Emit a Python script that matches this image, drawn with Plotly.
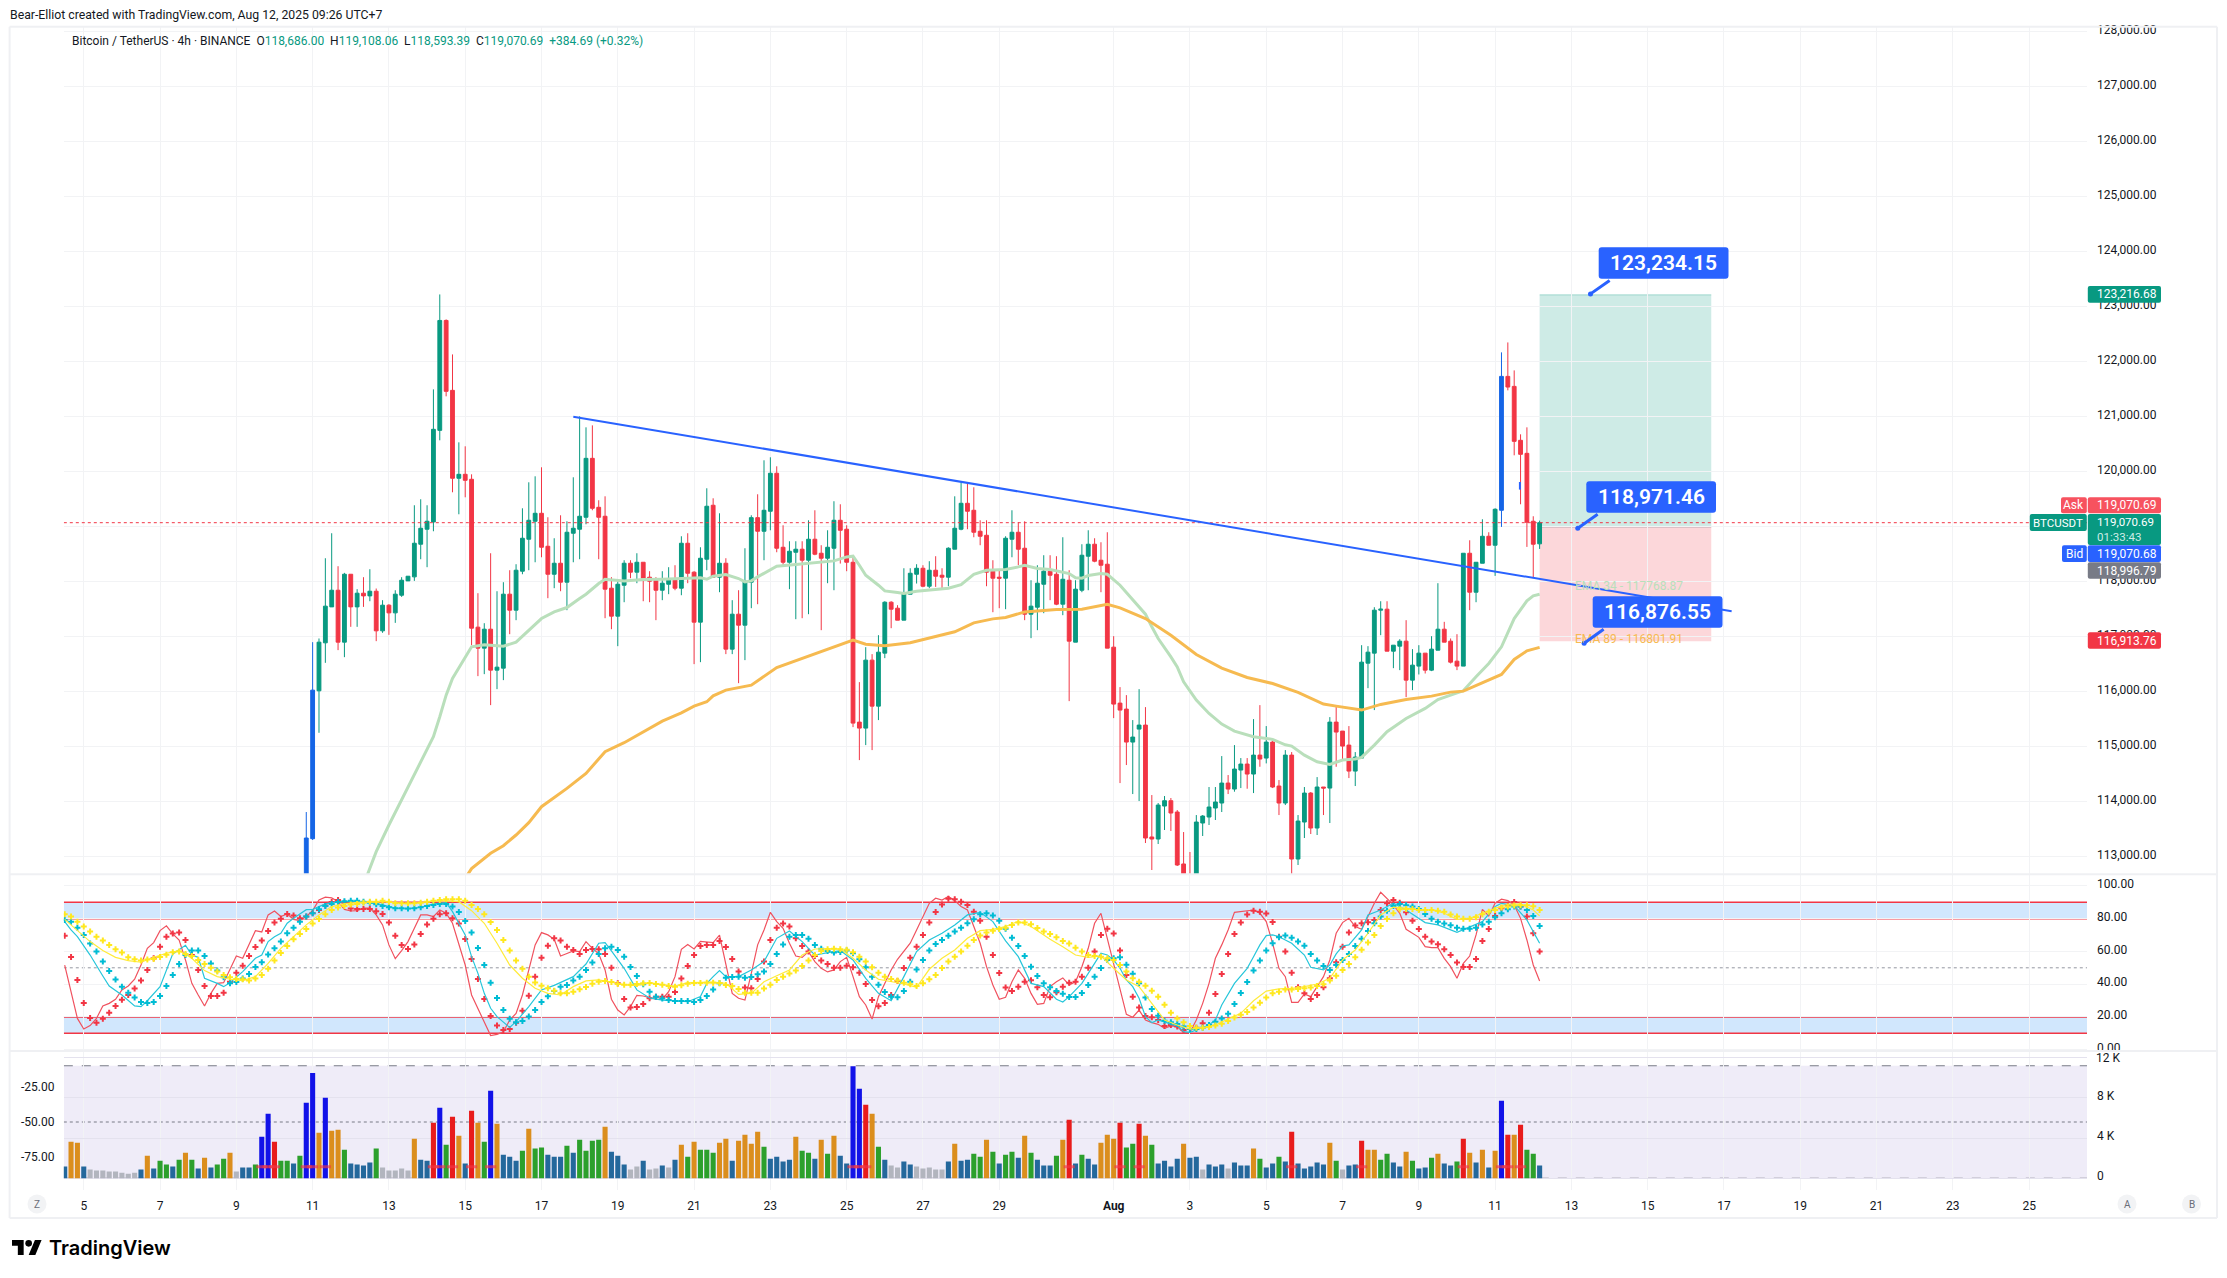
import pandas as pd
import plotly.graph_objects as go
from plotly.subplots import make_subplots

W, H = 2227, 1278

# bar 0 is the 4h candle of Jul 10 23:00 (UTC+7)
first_bar = pd.Timestamp("2025-07-10 23:00")

# Price pane, bars 0..194 (earlier bars are under the pane bottom)
opens = [112350,113321,116012,116885,117539,117842,116897,118133,117539,117788,117739,117824,117103,117570,117430,117751,118012,118085,118679,118952,
119085,120751,122751,121479,119879,119951,119861,117170,116788,117133,116388,116424,117770,117479,118188,118770,119097,119242,118642,118133,
118333,117988,118879,118952,119170,120242,119351,119188,117879,117370,117933,118333,118170,118351,118079,118024,117842,117951,118042,117879,
118697,118170,117261,118406,119388,118079,118333,116770,117406,117206,117988,119163,118915,119279,119970,118624,118351,118533,118588,118388,
118770,118515,118424,118606,119115,118952,118351,115442,115333,116570,115733,116697,117624,117515,117297,117770,118133,118242,117915,118206,
118115,118079,118588,118952,119424,119297,118915,118842,118188,118079,118061,118770,118897,118606,117406,117533,117951,118188,118133,117588,
118024,116897,117842,118461,118679,118388,118315,116806,115788,115679,115079,115315,115388,113352,113315,113915,114012,113806,112861,112570,
112418,113606,113715,113879,113970,114333,114224,114570,114679,114497,114842,114788,115079,114279,113970,114842,112951,113624,114151,113515,
114261,114242,115442,115279,115024,114551,114788,116515,116697,117479,117497,116733,116824,116915,116206,116461,116697,116388,116751,117133,
116915,116551,116461,118515,117806,118333,118824,118661,119297,121733,121551,120570,120333,119097,118686.00]
highs = [113806,116897,116964,118424,118879,118279,118158,118133,117861,118079,118224,117873,117661,117588,117842,118079,118097,119388,119497,119388,
121497,123224,122770,122133,120533,120461,119951,117788,117242,118515,117824,117988,118206,118315,119333,119806,119915,120079,119170,118788,
119206,119097,119897,121006,120806,120842,119479,119551,118079,118042,118388,118388,118515,118351,118188,118079,118188,118261,118297,118824,
118879,118188,118624,119697,119515,119242,118424,117661,117842,118606,119206,119588,120206,120261,120097,119024,118733,118733,118733,119115,
119297,118661,118933,119461,119406,119024,118461,116170,116806,116679,117024,117642,117642,117570,118242,118242,118315,118297,118370,118461,
118242,118624,119551,119806,119806,119715,119115,119115,118388,118224,118824,119297,119079,119097,118024,118297,118479,118479,118461,118806,
118206,118024,118679,118933,118788,118715,118897,117006,116079,115933,115479,116042,115715,114115,113970,114097,114061,113842,113442,113079,
113751,113751,114261,114261,114824,114479,115024,114788,114788,115497,115751,115370,115133,114388,114933,114897,113751,114261,114170,114442,
114261,115533,115733,115279,115370,114897,116842,116824,117533,117642,117642,116842,116951,117297,116770,116842,116697,117006,117970,117267,
116964,117042,118515,118751,118351,119133,118897,119333,122170,122351,121842,120679,120806,119188,119108.06]
lows = [112200,113297,115248,116521,117539,116752,116624,117176,117176,117539,117642,116915,117067,117030,117248,117721,118012,118012,118406,118261,
118915,120570,121370,119624,119224,119533,116842,116279,116315,115751,116042,116206,117042,117297,118133,118206,118351,118442,117697,117879,
117824,117479,118351,118406,119042,119297,118406,117333,117133,116824,117624,118061,117970,117642,117624,117297,117661,117770,117842,117751,
117970,116497,116533,118206,118079,117806,116679,116679,116151,116570,117515,117588,118388,118933,118533,118297,117861,117315,117333,117406,
118479,117115,117970,117842,118327,118188,115351,114751,115024,114933,115479,116606,117151,117297,117297,117770,117964,117897,117879,117903,
117879,117915,118588,118933,118952,118806,118661,117915,117442,117515,117497,118442,118297,117297,116970,117115,117424,117661,117570,117388,
115824,116897,117806,117842,118351,117806,116788,115515,114333,114661,114133,114006,113242,112751,113224,113479,113461,112824,112388,112267,
112267,113370,113570,113661,113806,114133,114176,114242,114230,114151,114630,114691,114242,113751,113933,112679,112842,113333,113406,113388,
113751,113606,114630,114751,114424,114279,114788,116060,115661,117024,116733,116424,116388,115897,116024,116309,116327,116370,116751,116897,
116509,116388,116461,117479,117624,118333,118661,118103,118994,121479,120297,119406,118630,118079,118593.39]
closes = [113333,116024,116897,117552,117842,116897,118133,117539,117788,117739,117824,117103,117570,117430,117770,118024,118097,118697,118970,119097,
120770,122751,121461,119879,119951,119842,117151,116788,117133,116388,116442,117770,117479,118206,118788,119115,119242,118624,118133,118333,
117988,118897,118970,119188,120242,119333,119170,117861,117370,117951,118333,118170,118351,118061,118006,117842,117970,118042,117879,118697,
118151,117261,118424,119370,118079,118333,116770,117406,117206,118006,119163,118915,119297,119970,118606,118351,118551,118588,118388,118770,
118497,118424,118624,119115,118933,118351,115424,115333,116570,115733,116715,117624,117497,117297,117788,118151,118242,117915,118206,118097,
118079,118606,118970,119424,119279,118897,118824,118170,118061,118061,118788,118897,118588,117406,117552,117970,118188,118115,117588,118042,
116915,117861,118479,118679,118370,118297,116788,115770,115661,115079,115170,115388,113333,113315,113933,114012,113788,112842,112570,112418,
113624,113733,113897,113988,114333,114224,114588,114679,114497,114842,114770,115079,114261,113970,114842,112951,113642,114151,113515,114261,
114242,115442,115261,115006,114551,114806,116533,116715,117479,117497,116733,116842,116915,116206,116479,116697,116388,116770,117133,116897,
116533,116461,118515,117806,118351,118824,118661,119315,121733,121539,120551,120315,119079,118679,119070.69]
blue_bars = [0, 1, 188]

ema34_bars = [9,11,13,15,17,20,21,22,23,25,26,28,31,33,34,36,37,39,41,43,44,46,47,50,53,56,60,62,63,64,66,68,69,70,71,72,73,74,77,80,83,85,86,87,88,90,91,93,94,96,99,101,103,105,107,110,112,113,115,117,120,121,122,123,125,126,128,130,132,133,134,136,137,138,140,142,144,146,149,152,154,155,157,159,161,163,165,166,168,170,173,176,178,180,182,184,186,188,189,190,192,193,194]
ema34_vals = [112479,113085,113570,114024,114479,115176,115539,115933,116236,116630,116812,116848,116824,116897,117006,117206,117327,117448,117527,117691,117770,117964,118042,118012,118036,118042,118061,118067,118042,118097,118127,118055,117994,118012,118085,118145,118206,118279,118309,118339,118376,118448,118461,118297,118115,117933,117830,117800,117782,117824,117855,117879,117945,118133,118206,118218,118267,118297,118236,118218,118145,118067,118061,118109,118145,118133,117933,117661,117406,117176,116964,116630,116448,116176,115842,115600,115406,115279,115176,115127,115030,115006,114842,114721,114672,114751,114770,114800,115024,115267,115509,115691,115854,115933,116012,116267,116509,116812,117055,117327,117648,117739,117768.87]
ema89_bars = [25,26,29,31,33,35,37,41,44,46,47,50,53,56,59,61,63,64,66,69,70,74,78,81,83,86,88,91,95,98,102,105,108,110,113,118,122,126,128,132,136,140,144,148,152,156,160,162,166,169,173,177,180,182,185,188,190,192,194]
ema89_vals = [112600,112776,113055,113194,113388,113612,113903,114236,114509,114782,114903,115067,115267,115461,115612,115733,115812,115921,116024,116085,116115,116436,116600,116715,116800,116933,116860,116830,116885,116970,117085,117248,117321,117345,117448,117491,117497,117588,117521,117327,117024,116673,116424,116254,116145,115982,115770,115733,115661,115764,115854,115915,115988,116006,116157,116309,116582,116739,116801.91]

trend_bars = [42, 224.2]
trend_vals = [121000, 117460]

last_price = 119070.69
target_price = 123216.68
entry_price = 118996.79
stop_price = 116913.76
position_bars = [194, 221]
callout_bars = [202, 200, 201]
callout_vals = [123234.15, 118971.46, 116876.55]

# RSI pane, bars -38..194
rsi_first_bar = -38
rsi_red_line = [51.7,34.4,19.1,12.6,14.7,19.1,26.7,28.3,30.8,36.5,38.9,43.0,51.7,61.9,65.4,72.7,75.6,70.7,67.0,54.8,40.5,33.4,26.7,34.4,40.5,40.9,48.7,57.2,55.8,64.0,72.7,71.9,82.3,84.7,81.3,82.9,79.6,78.8,81.3,84.9,91.4,93.1,92.7,90.4,85.7,84.7,84.9,86.4,86.4,82.3,76.2,64.0,55.6,60.5,66.0,74.1,82.3,82.3,81.3,85.3,83.3,77.2,65.0,51.7,33.4,25.3,17.1,8.6,9.4,11.0,18.1,22.2,33.4,48.7,64.0,71.5,70.1,67.4,57.2,
58.7,60.3,59.9,66.0,61.9,58.5,48.7,30.8,24.2,21.2,26.3,33.2,32.8,31.8,30.8,30.8,35.4,44.6,61.3,64.2,61.5,66.2,65.6,65.4,69.9,51.7,34.4,31.4,30.3,46.6,64.0,73.1,83.9,78.2,74.1,65.0,57.2,56.4,59.9,53.8,49.7,47.5,48.7,53.8,56.4,44.6,32.4,27.3,18.7,32.4,40.5,48.7,55.2,59.9,65.0,73.1,81.3,89.4,92.5,91.4,93.5,91.0,87.4,85.3,75.2,65.0,50.7,39.5,30.8,32.0,41.5,48.7,43.6,34.4,27.7,28.3,38.5,
41.5,43.8,39.5,41.5,50.7,61.9,77.2,83.3,68.0,51.7,36.5,21.6,19.8,24.2,18.1,16.5,15.5,13.0,14.5,14.1,10.4,10.6,18.1,28.3,40.5,55.8,64.0,73.1,83.9,84.3,84.7,85.3,83.3,78.2,65.0,49.7,44.6,28.9,28.9,34.0,32.4,38.5,44.6,54.8,71.1,77.6,80.2,75.2,73.5,81.3,89.4,96.1,92.5,88.4,83.3,73.5,71.1,68.6,62.9,62.3,62.3,55.8,50.7,43.6,52.7,57.2,70.1,85.7,81.7,89.4,91.9,91.0,88.4,80.2,67.0,51.7,42.0]
rsi_red_marks = [69.5,56.6,42.6,28.5,19.3,16.5,18.9,22.6,26.7,30.5,33.4,37.3,42.2,48.7,55.8,62.9,69.0,70.9,71.5,67.0,57.8,48.7,38.9,32.8,32.8,34.8,41.5,47.0,51.3,57.2,62.7,66.6,72.5,77.6,80.0,82.9,81.9,80.2,81.3,83.3,85.3,88.0,90.2,91.4,89.8,86.2,85.9,85.9,85.9,84.5,82.9,77.6,69.5,64.0,61.5,64.2,70.7,76.4,80.0,82.7,83.3,80.2,77.0,67.6,55.4,43.2,31.0,20.6,14.7,12.0,12.6,16.5,23.8,33.0,44.6,56.2,63.5,68.0,66.6,
62.9,60.9,58.5,60.9,61.5,61.3,58.5,50.1,40.5,31.0,25.7,26.1,27.9,31.4,32.4,32.4,32.4,35.2,43.4,51.1,57.8,63.3,64.0,64.0,66.4,62.7,55.4,47.7,37.9,37.5,43.2,53.8,67.0,74.5,77.0,75.2,68.0,63.3,59.9,57.2,54.4,52.3,50.1,50.1,51.3,50.3,47.0,40.1,30.3,26.5,28.5,33.4,42.0,49.9,56.2,62.9,70.1,77.6,84.1,88.6,92.1,91.9,90.4,88.4,84.3,78.8,69.0,57.8,46.8,37.9,35.8,38.5,41.5,42.4,38.1,33.4,32.0,
35.0,38.5,40.9,41.5,44.6,50.1,59.9,70.1,73.9,70.9,60.5,45.6,32.4,25.7,20.6,19.8,18.1,14.5,15.1,14.1,12.0,12.6,13.4,16.1,22.6,34.0,46.2,58.5,70.7,77.6,82.5,84.9,84.3,83.1,78.0,69.0,59.9,47.0,38.1,34.4,31.0,33.4,38.1,43.6,53.4,62.9,71.5,75.8,77.2,77.8,79.2,85.3,89.4,91.4,89.8,83.9,78.8,73.7,69.0,66.0,64.4,61.3,57.8,53.2,50.5,50.5,55.4,66.4,73.7,81.7,86.4,88.4,90.2,87.4,81.3,71.1,59.9]
rsi_cyan_marks = [79.2,78.2,74.5,70.1,64.8,59.9,53.8,48.1,42.8,38.5,34.8,31.8,29.1,28.5,29.1,32.8,38.9,45.6,52.3,57.8,60.5,60.5,57.2,52.7,48.3,44.2,40.5,41.3,43.4,46.2,50.5,53.4,58.2,61.9,66.0,71.1,74.5,78.2,81.3,83.3,85.7,87.8,89.0,90.2,90.6,91.0,91.0,90.4,89.8,88.8,87.8,87.0,86.4,86.4,86.2,86.4,87.0,87.8,88.4,89.0,89.0,87.4,84.1,78.6,71.5,62.1,51.7,40.9,31.6,24.2,18.9,16.7,17.5,20.2,24.2,29.1,32.6,35.8,38.5,
39.5,42.2,44.6,48.7,53.2,58.5,61.9,62.9,60.9,56.8,50.5,45.0,39.9,35.4,32.4,31.2,30.3,29.7,29.7,29.7,29.1,30.3,32.8,36.7,40.5,44.0,44.4,44.6,44.0,44.4,46.0,47.7,52.3,58.5,64.2,69.0,70.1,70.1,67.8,64.0,61.7,60.3,59.3,59.7,60.5,58.9,55.2,50.3,44.6,39.7,35.2,32.4,32.0,35.8,41.5,48.9,54.8,60.5,64.6,67.0,69.5,72.1,74.5,77.2,79.6,82.7,83.3,81.9,78.8,73.9,68.4,63.3,57.2,50.7,45.0,40.5,38.1,
35.8,34.2,32.2,32.2,34.6,39.5,44.6,49.9,54.8,55.8,56.4,51.9,46.4,40.5,31.8,24.8,20.8,17.7,16.7,15.7,14.1,12.6,12.6,13.4,15.1,17.1,19.1,22.0,27.9,34.6,41.3,48.3,54.4,60.5,65.0,68.6,69.7,68.4,66.0,63.5,58.5,54.4,51.1,48.7,51.7,54.8,58.5,63.3,67.8,72.5,77.2,81.3,84.9,87.8,89.0,88.2,87.4,85.9,82.9,80.0,78.2,77.0,76.0,74.5,73.9,73.9,74.5,76.4,78.2,80.9,83.3,85.7,87.4,87.4,85.3,81.7,75.6]
rsi_yellow_marks = [82.7,81.3,78.2,75.2,72.1,69.0,66.6,64.0,61.3,59.3,56.4,55.2,54.4,55.0,55.4,56.6,58.0,59.5,59.9,58.5,57.2,54.8,52.3,50.1,47.7,45.6,44.2,43.2,43.0,42.2,43.4,45.6,49.5,54.4,59.1,63.3,67.4,70.7,73.7,77.0,79.8,82.7,85.3,86.8,87.8,88.6,89.0,89.8,90.4,90.4,91.0,90.4,89.4,89.4,89.4,89.4,89.8,90.4,91.0,91.4,91.9,91.9,91.9,91.0,88.4,85.9,82.7,78.0,73.1,67.0,60.5,54.4,49.5,44.6,41.1,39.1,37.5,36.0,34.4,
34.4,35.4,36.9,38.3,40.3,41.5,42.0,41.3,40.1,39.7,39.7,40.1,40.5,40.7,40.1,39.7,38.9,38.5,39.3,40.3,40.7,40.7,40.9,40.9,40.7,39.5,38.9,37.1,34.8,34.8,34.8,37.3,39.7,42.6,44.6,46.6,48.3,51.1,54.4,57.8,60.3,61.3,61.7,61.3,61.1,59.5,56.8,53.8,50.3,47.0,44.6,43.2,42.2,40.9,39.9,38.9,40.5,43.0,45.6,49.9,53.8,56.8,59.9,63.5,67.0,69.7,71.5,72.7,73.7,74.5,76.2,77.6,77.6,76.6,74.3,72.1,70.7,
68.6,66.4,64.8,62.3,59.9,57.8,57.2,56.8,55.8,54.8,51.7,47.7,43.6,41.5,39.1,36.0,32.4,27.5,22.6,19.1,16.7,14.5,13.4,13.4,13.8,14.7,15.9,17.5,19.6,21.4,23.0,25.7,28.7,31.8,34.4,35.4,36.7,36.7,37.1,37.5,37.9,38.9,39.9,42.2,45.2,48.7,52.3,56.4,61.1,65.4,70.1,75.6,79.8,83.3,85.7,85.9,85.9,85.3,85.3,85.3,84.9,84.3,82.5,81.3,80.0,80.0,80.9,82.7,84.3,85.3,86.8,87.4,88.0,88.2,88.2,87.6,85.3]
rsi_cyan_bars = [-38,-37,-36,-35,-34,-32,-31,-29,-27,-26,-25,-23,-22,-21,-19,-18,-17,-16,-14,-13,-12,-10,-8,-7,-6,-5,-4,-3,-2,0,1,2,3,4,6,8,10,12,14,16,18,20,22,23,24,25,26,27,28,29,30,32,33,35,37,39,
42,44,46,47,48,50,52,54,56,58,60,62,63,64,65,66,68,70,72,74,76,78,80,82,84,86,88,90,92,94,96,98,100,102,104,106,108,110,112,114,116,
118,119,120,122,124,125,126,127,128,129,130,131,132,133,134,135,136,137,138,139,140,142,143,144,146,148,149,150,151,152,153,155,157,158,160,161,162,163,164,166,167,169,171,173,176,178,181,183,185,187,188,190,192,193,194]
rsi_cyan_line = [78.2,73.1,69.0,63.3,57.8,45.0,38.9,33.4,26.7,26.3,29.9,38.5,48.7,58.5,63.7,57.8,56.4,43.6,40.5,38.5,40.9,47.7,55.8,57.8,66.0,69.0,71.1,77.2,80.2,85.5,85.7,87.4,89.0,89.8,90.4,90.4,89.8,88.4,86.4,85.9,87.0,89.0,89.8,84.3,77.2,70.1,56.8,46.6,34.4,25.3,20.2,13.6,17.1,26.3,36.5,39.3,
44.6,52.3,65.0,65.4,60.3,49.7,36.5,31.6,30.3,29.7,29.3,32.4,40.5,44.6,48.3,44.6,44.6,48.7,53.8,68.0,72.5,66.0,57.8,59.3,60.5,54.8,43.6,34.4,29.9,44.6,59.9,67.0,71.1,76.2,82.3,83.9,78.2,66.4,56.8,40.5,38.5,
30.8,29.1,32.4,40.5,52.7,58.9,57.8,54.8,49.7,42.6,38.5,31.4,20.2,16.5,18.1,17.1,15.5,14.7,11.0,10.6,12.0,15.1,18.1,27.3,40.5,49.7,56.8,64.0,69.7,70.1,69.0,65.0,57.8,50.3,48.7,51.7,58.5,63.3,64.0,73.1,82.3,85.3,89.4,85.3,77.6,76.2,71.7,75.2,78.2,87.4,89.4,88.0,79.2,72.1,65.0]
rsi_yellow_bars = list(range(-38, 117, 2)) + list(range(117, 194, 2)) + [194]
rsi_yellow_line = [79.6,73.1,66.0,60.5,56.4,54.4,53.4,56.4,58.9,60.5,55.8,48.3,44.6,43.0,42.2,44.6,52.7,61.9,69.0,76.2,82.3,87.4,89.0,90.0,90.2,90.4,89.8,89.0,89.8,90.8,91.0,90.4,84.9,77.2,65.0,51.7,43.6,37.5,34.4,33.4,
38.5,42.0,42.6,41.1,39.7,39.1,40.9,39.7,38.9,40.9,40.9,41.3,40.5,33.8,34.4,41.5,45.2,48.7,57.8,61.5,61.7,61.5,55.8,48.7,43.0,41.5,40.1,38.1,49.1,55.8,60.9,68.0,72.7,73.5,75.2,78.4,75.2,70.1,
67.4,62.9,57.8,56.4,57.2,49.7,42.6,38.5,28.3,18.1,15.1,12.6,13.4,15.1,18.7,22.2,29.9,35.8,37.1,37.5,38.5,40.1,43.6,54.8,60.9,71.1,82.3,87.0,86.4,85.3,85.3,83.3,79.6,80.2,83.3,86.4,88.8,89.0,85.3,81.7]
rsi_levels = [90, 80, 20, 10]
rsi_ticks = [0, 20, 40, 60, 80, 100]

# Volume pane, bars -38..194; kinds: b steel, g green, o orange, G grey, B blue, r red
volumes = [1160,3640,3540,1160,860,760,760,660,660,560,460,560,860,2250,960,1750,1360,1160,1850,2550,1850,960,2050,1060,1360,1950,2550,660,1060,1060,1360,4140,6420,3640,1750,1750,1460,2250,
7510,10490,4530,8010,4730,4830,2850,1460,1360,1260,1560,2950,1060,760,760,960,760,3940,1850,1750,5530,7020,3340,6120,4240,1460,6720,5530,3640,8710,5430,2350,2150,1750,2750,4930,2950,3050,2350,2150,2150,3240,2550,3840,2750,3740,3840,5130,2650,2250,1360,860,1160,1750,860,960,1260,1060,1850,3340,2150,3640,2850,2850,2550,3540,3940,1750,3740,4340,3440,4630,3140,1950,2150,1660,1850,4140,
2750,2550,1950,3840,2450,4240,2250,1460,11150,8900,7320,6420,3140,1850,1260,1060,1660,1360,1160,960,1060,860,860,1660,3440,1750,1850,2450,2150,3840,2650,1460,2350,2650,2050,4240,2550,1850,1260,1260,2250,3840,5830,1460,2350,1950,1360,3540,4340,3940,5530,3050,3440,5430,4240,3340,1460,1750,1160,1950,3440,2050,2150,860,1360,1160,1360,960,1560,1260,1260,2950,1950,1060,1460,2150,1660,4630,1460,960,1160,1560,1360,3540,1750,860,1260,1360,3740,2850,2850,1850,2450,1560,1160,2650,1750,960,1060,2050,2450,1460,1260,1660,3940,2550,1560,2850,1060,2750,7710,4340,4340,5330,2850,2450,1260]
vol_kinds = "".join(["boobGGGGGG","GGbobggbgo","gbobggoGbb","gBBrggbgBB","oBoogbbbbg","GGGGGobbrB","grobrogBob","bbgoggbbbg","bggggobbbG",
                     "GbGGbGbogo","gggooboooo","gbbbboggbo","gobbBBrogb","GGbbGGGGGb","obbggogbgg","bogbbbgorb","gbbooorggr",
                     "ogbbbbobbG","bbbGbbbogb","bgbrbbbbbo","gGbbrooggb","bogbbgobbg","roboboBror","ggb"])
vol_ticks = [0, 4000, 8000]
vol_tick_labels = ["0", "4 K", "8 K"]
vol_grid_extra = 12000
vol_band_top = 11200
vol_mid = 5600
vol_left_labels = ["-25.00", "-50.00", "-75.00"]

tick_days = ["07-05","07-07","07-09","07-11","07-13","07-15","07-17","07-19","07-21","07-23","07-25","07-27","07-29",
             "08-01","08-03","08-05","08-07","08-09","08-11","08-13","08-15","08-17","08-19","08-21","08-23","08-25"]
tick_labels = ["5","7","9","11","13","15","17","19","21","23","25","27","29","<b>Aug</b>","3","5","7","9","11","13","15","17","19","21","23","25"]

RED = "#F23645"
GREEN = "#089981"
BLUE = "#2962FF"
INK = "#131722"
GRID = "#F2F3F5"
FONT = "Roboto"
KIND_COLORS = {"b": "#24689C", "g": "#2CA02C", "o": "#DB8E1D", "G": "#B2B5BE", "B": "#1212E8", "r": "#E81C1C"}


def bar_time(k):
    return first_bar + pd.Timedelta(hours=4 * k)


def fx(px):
    return px / W


def fy(py):
    return 1 - py / H


rsi_bars = list(range(rsi_first_bar, rsi_first_bar + 233))
rsi_times = [bar_time(k) for k in rsi_bars]
candle_times = [bar_time(k) for k in range(195)]
x_range = [bar_time(-38.14), bar_time(280.1)]

fig = make_subplots(rows=3, cols=1, shared_xaxes=True, vertical_spacing=0)

# long position box
fig.add_shape(type="rect", x0=bar_time(position_bars[0]), x1=bar_time(position_bars[1]), y0=entry_price, y1=target_price,
              fillcolor="rgba(8,153,129,0.2)", line_width=0, layer="below", row=1, col=1)
fig.add_shape(type="rect", x0=bar_time(position_bars[0]), x1=bar_time(position_bars[1]), y0=stop_price, y1=entry_price,
              fillcolor="rgba(242,54,69,0.2)", line_width=0, layer="below", row=1, col=1)
for price, color in [(target_price, "rgba(8,153,129,0.3)"), (entry_price, "#787B86")]:
    fig.add_shape(type="line", x0=bar_time(position_bars[0]), x1=bar_time(position_bars[1]), y0=price, y1=price,
                  line=dict(color=color, width=1), layer="below", row=1, col=1)

fig.add_trace(go.Scatter(x=x_range, y=[last_price, last_price], mode="lines",
                         line=dict(color=RED, width=1, dash="dot")), row=1, col=1)
fig.add_trace(go.Scatter(x=[bar_time(k) for k in ema34_bars], y=ema34_vals, mode="lines",
                         line=dict(color="#B9DFBB", width=3)), row=1, col=1)
fig.add_trace(go.Scatter(x=[bar_time(k) for k in ema89_bars], y=ema89_vals, mode="lines",
                         line=dict(color="#F6BA50", width=3)), row=1, col=1)

# Candles
plain = [k for k in range(195) if k not in blue_bars]
fig.add_trace(go.Candlestick(
    x=[candle_times[k] for k in plain],
    open=[opens[k] for k in plain], high=[highs[k] for k in plain],
    low=[lows[k] for k in plain], close=[closes[k] for k in plain],
    increasing=dict(line=dict(color=GREEN, width=1), fillcolor=GREEN),
    decreasing=dict(line=dict(color=RED, width=1), fillcolor=RED),
    whiskerwidth=0), row=1, col=1)
fig.add_trace(go.Candlestick(
    x=[candle_times[k] for k in blue_bars],
    open=[opens[k] for k in blue_bars], high=[highs[k] for k in blue_bars],
    low=[lows[k] for k in blue_bars], close=[closes[k] for k in blue_bars],
    increasing=dict(line=dict(color="#1565E6", width=1), fillcolor="#1565E6"),
    decreasing=dict(line=dict(color="#1565E6", width=1), fillcolor="#1565E6"),
    whiskerwidth=0), row=1, col=1)

fig.add_trace(go.Scatter(x=[bar_time(k) for k in trend_bars], y=trend_vals, mode="lines",
                         line=dict(color=BLUE, width=2)), row=1, col=1)
fig.add_trace(go.Scatter(x=[bar_time(k) for k in callout_bars], y=callout_vals, mode="markers",
                         marker=dict(color=BLUE, size=5)), row=1, col=1)

# RSI pane
for low_level, high_level in [(rsi_levels[3], rsi_levels[2]), (rsi_levels[1], rsi_levels[0])]:
    fig.add_shape(type="rect", x0=x_range[0], x1=x_range[1], y0=low_level, y1=high_level,
                  fillcolor="#D1E7FD", line_width=0, layer="below", row=2, col=1)
for level in rsi_levels:
    fig.add_shape(type="line", x0=x_range[0], x1=x_range[1], y0=level, y1=level,
                  line=dict(color=RED, width=1.5), layer="below", row=2, col=1)
fig.add_shape(type="line", x0=x_range[0], x1=x_range[1], y0=50, y1=50,
              line=dict(color="#9598A1", width=1, dash="dot"), layer="below", row=2, col=1)

rsi_series = [
    (rsi_times, rsi_red_line, rsi_red_marks, "#F0525F", RED),
    ([bar_time(k) for k in rsi_cyan_bars], rsi_cyan_line, rsi_cyan_marks, "#26C6DA", "#00BCD4"),
    ([bar_time(k) for k in rsi_yellow_bars], rsi_yellow_line, rsi_yellow_marks, "#FFEB3B", "#FFE81F"),
]
for line_x, line_y, marks, line_color, mark_color in rsi_series:
    fig.add_trace(go.Scatter(x=line_x, y=line_y, mode="lines",
                             line=dict(color=line_color, width=1.2)), row=2, col=1)
    fig.add_trace(go.Scatter(x=rsi_times, y=marks, mode="markers",
                             marker=dict(symbol="cross", color=mark_color, size=5, line_width=0)), row=2, col=1)

# Volume pane
fig.add_shape(type="rect", x0=x_range[0], x1=x_range[1], y0=0, y1=vol_band_top,
              fillcolor="#EFECF8", line_width=0, layer="below", row=3, col=1)
for level, dash in [(vol_band_top, "dash"), (0, "dash"), (vol_mid, "dot")]:
    fig.add_shape(type="line", x0=x_range[0], x1=x_range[1], y0=level, y1=level,
                  line=dict(color="#787B86", width=1, dash=dash), layer="below", row=3, col=1)

fig.add_trace(go.Bar(x=rsi_times, y=volumes, marker=dict(color=[KIND_COLORS[c] for c in vol_kinds], line_width=0)),
              row=3, col=1)
stub_times = [t for t, c in zip(rsi_times, vol_kinds) if c in "Br"]
fig.add_trace(go.Scatter(x=stub_times, y=[1150] * len(stub_times), mode="markers",
                         marker=dict(symbol="line-ew", size=8, line=dict(color="rgba(242,54,69,0.65)", width=3))),
              row=3, col=1)

axis_font = dict(family=FONT, size=12, color=INK)
tick_times = [pd.Timestamp(f"2025-{d} 03:00") for d in tick_days]
for row in (1, 2, 3):
    fig.update_xaxes(range=x_range, tickmode="array", tickvals=tick_times, ticktext=tick_labels,
                     showgrid=True, gridcolor=GRID, gridwidth=1, showline=False, zeroline=False,
                     domain=[fx(63.8), fx(2087)], rangeslider_visible=False, ticks="", tickfont=axis_font,
                     showticklabels=row == 3, ticklabelstandoff=7, automargin=False, row=row, col=1)

fig.update_yaxes(domain=[fy(874.3), fy(26.7)], range=[112673, 128096], side="right", tickmode="array",
                 tickvals=list(range(113000, 128001, 1000)), tickformat=",.2f", row=1, col=1)
fig.update_yaxes(domain=[fy(1051), fy(874.3)], range=[-0.8, 107.1], side="right", tickmode="array",
                 tickvals=rsi_ticks, tickformat=".2f", row=2, col=1)
fig.update_yaxes(domain=[fy(1190), fy(1051)], range=[-1170, 12670], side="right", tickmode="array",
                 tickvals=vol_ticks + [vol_grid_extra], ticktext=vol_tick_labels + [" "], row=3, col=1)
fig.update_yaxes(showgrid=True, gridcolor=GRID, gridwidth=1, zeroline=False, showline=False, ticks="",
                 tickfont=axis_font, ticklabelstandoff=9, ticklabelshift=-2, automargin=False)
fig.update_yaxes(gridcolor="#E4E2EE", row=3, col=1)


def text(x, y, s, size=12, color=INK, xanchor="left", family=FONT, weight=None):
    font = dict(family=family, size=size, color=color)
    if weight:
        font["weight"] = weight
    fig.add_annotation(x=fx(x), y=fy(y), xref="paper", yref="paper", text=s, showarrow=False,
                       xanchor=xanchor, yanchor="middle", font=font, borderpad=0, borderwidth=0, align="left")


def round_box(x0, y0, x1, y1, color, r=2):
    p = (f"M {fx(x0 + r)} {fy(y0)} L {fx(x1 - r)} {fy(y0)} Q {fx(x1)} {fy(y0)} {fx(x1)} {fy(y0 + r)} "
         f"L {fx(x1)} {fy(y1 - r)} Q {fx(x1)} {fy(y1)} {fx(x1 - r)} {fy(y1)} "
         f"L {fx(x0 + r)} {fy(y1)} Q {fx(x0)} {fy(y1)} {fx(x0)} {fy(y1 - r)} "
         f"L {fx(x0)} {fy(y0 + r)} Q {fx(x0)} {fy(y0)} {fx(x0 + r)} {fy(y0)} Z")
    fig.add_shape(type="path", path=p, xref="paper", yref="paper", fillcolor=color, line_width=0, layer="above")


# frame around the chart
for x0, y0, x1, y1 in [(9.6, 26.7, 2217, 26.7), (9.6, 26.7, 9.6, 1218), (2217, 26.7, 2217, 1218), (9.6, 1218, 2217, 1218),
                       (9.6, 874.3, 2217, 874.3), (9.6, 1051, 2217, 1051)]:
    fig.add_shape(type="line", x0=fx(x0), x1=fx(x1), y0=fy(y0), y1=fy(y1), xref="paper", yref="paper",
                  line=dict(color="#EFF0F3", width=2), layer="above")

# covers the lower half of the RSI 0.00 tick, as the volume pane does
fig.add_shape(type="rect", x0=fx(2090), x1=fx(2215), y0=fy(1052), y1=fy(1064), xref="paper", yref="paper",
              fillcolor="white", line_width=0, layer="above")
text(2096, 1057.7, "12 K")

text(10, 15, "Bear-Elliot created with TradingView.com, Aug 12, 2025 09:26 UTC+7", size=12.25)
v = lambda s: f'<span style="color:{GREEN}">{s}</span>'
text(72, 41.5, "Bitcoin / TetherUS · 4h · BINANCE  O" + v("118,686.00") + "  H" + v("119,108.06") + "  L" + v("118,593.39")
     + "  C" + v("119,070.69") + "  " + v("+384.69 (+0.32%)"), size=12)

for py, label in zip([1086.7, 1121.7, 1156.7], vol_left_labels):
    text(55, py, label, xanchor="right")

# EMA captions inside the position box
text(1575, 585.7, "EMA 34 - 117768.87", color="#B9DFBB")
text(1575, 638.7, "EMA 89 - 116801.91", color="#F6BA50")

# small blue tick next to the last candles
fig.add_trace(go.Scatter(x=[bar_time(190.9)] * 2, y=[119811, 119673], mode="lines",
                         line=dict(color=BLUE, width=2)), row=1, col=1)

# callout boxes
callouts = [((1598.7, 247.3, 1728.5, 278.7), (1611, 279)),
            ((1586.3, 481.3, 1716, 512.7), (1599, 513)),
            ((1592.7, 596.3, 1722.5, 627.7), (1605, 628))]
for (box, tail), k, val in zip(callouts, callout_bars, callout_vals):
    round_box(*box, BLUE, r=3)
    text((box[0] + box[2]) / 2, (box[1] + box[3]) / 2, f"{val:,.2f}", size=21, color="white", xanchor="center", weight=600)
    fig.add_annotation(x=bar_time(k), y=val, xref="x", yref="y", ax=tail[0] - (306.24 + 6.357 * k),
                       ay=tail[1] - (86.3 + (127000 - val) * 0.055), axref="pixel", ayref="pixel", text="",
                       showarrow=True, arrowhead=0, arrowwidth=3, arrowcolor=BLUE, standoff=0)

# right-hand price tags
for y0, y1, bg, label in [(286, 302.7, GREEN, "123,216.68"),
                          (497.3, 513.3, "#F7525F", "119,070.69"),
                          (545.3, 562, BLUE, "119,070.68"),
                          (562.3, 578.7, "#787B86", "118,996.79"),
                          (632.3, 648.7, RED, "116,913.76")]:
    round_box(2087.8, y0, 2161, y1, bg)
    text(2096.5, (y0 + y1) / 2, label, color="white")
round_box(2087.8, 514, 2161, 545, GREEN)
text(2096.5, 529, "119,070.69<br><span style='color:#CDEBE6'>01:33:43</span>", color="white", size=11.5)
round_box(2061, 497.3, 2086.8, 513.3, "#F7525F")
text(2073.9, 505.3, "Ask", color="white", xanchor="center")
round_box(2029.8, 514, 2086.8, 531, GREEN)
text(2058.3, 522.5, "BTCUSDT", color="white", xanchor="center", size=11.5)
round_box(2062, 545.3, 2086.8, 562, BLUE)
text(2074.4, 553.6, "Bid", color="white", xanchor="center")

# Z / A / B buttons
for cx, letter in [(37, "Z"), (2127, "A"), (2191.5, "B")]:
    fig.add_shape(type="circle", x0=fx(cx - 9.5), x1=fx(cx + 9.5), y0=fy(1204 + 9.5), y1=fy(1204 - 9.5),
                  xref="paper", yref="paper", fillcolor="#F2F3F5", line_width=0, layer="above")
    text(cx, 1204, letter, size=10, color="#6A6D78", xanchor="center")

# TradingView logo, built from its 36x18 glyph
def lx(u):
    return fx(12 + u * 0.8333)


def ly(u):
    return fy(1240 + (u - 4) * 0.8333)


logo = (f"M {lx(14)} {ly(22)} L {lx(7)} {ly(22)} L {lx(7)} {ly(11)} L {lx(0)} {ly(11)} L {lx(0)} {ly(4)} L {lx(14)} {ly(4)} Z "
        f"M {lx(28)} {ly(22)} L {lx(20)} {ly(22)} L {lx(27.5)} {ly(4)} L {lx(35.5)} {ly(4)} Z")
fig.add_shape(type="path", path=logo, xref="paper", yref="paper", fillcolor="#000000", line_width=0)
fig.add_shape(type="circle", x0=lx(16), x1=lx(24), y0=ly(12), y1=ly(4), xref="paper", yref="paper",
              fillcolor="#000000", line_width=0)
text(49, 1248, "TradingView", size=20, color="#000000", family="Inter", weight=600)

fig.update_layout(width=W, height=H, margin=dict(l=0, r=0, t=0, b=0, autoexpand=False), showlegend=False,
                  paper_bgcolor="white", plot_bgcolor="white", bargap=0.2, boxgap=0.25, boxgroupgap=0.2,
                  font=dict(family=FONT, size=12, color=INK))

fig.write_html("out.html", config=dict(displayModeBar=False),
               post_script="document.body.style.margin='0';")
